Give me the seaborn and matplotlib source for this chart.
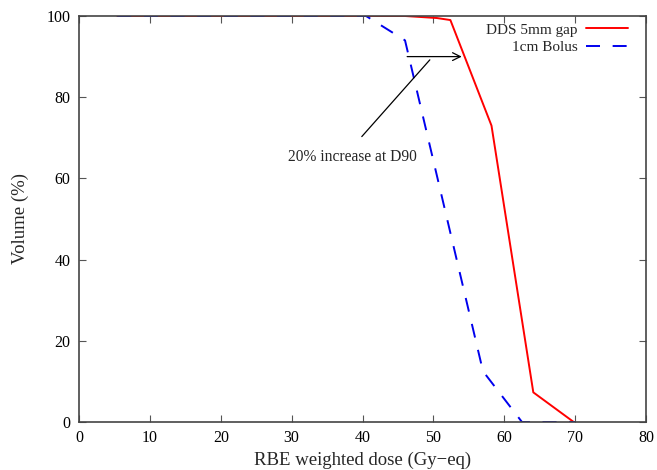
import matplotlib
matplotlib.use("Agg")
import matplotlib.pyplot as plt
import seaborn as sns
import pandas as pd

# Dose-volume histogram data (dose in Gy-eq, volume in %)
dds_dose = [5.4, 40.0, 46.0, 50.5, 52.4, 58.2, 64.1, 69.8]
dds_volume = [100, 100, 100, 99.5, 99.0, 73.0, 7.3, 0.0]
bolus_dose = [5.4, 40.5, 46.0, 57.0, 62.5, 70.0]
bolus_volume = [100, 100, 94.0, 12.5, 0.0, 0.0]

series_names = ["DDS 5mm gap", "1cm Bolus"]
x_ticks = [0, 10, 20, 30, 40, 50, 60, 70, 80]
y_ticks = [0, 20, 40, 60, 80, 100]

df = pd.concat([
    pd.DataFrame({"dose": dds_dose, "volume": dds_volume, "plan": series_names[0]}),
    pd.DataFrame({"dose": bolus_dose, "volume": bolus_volume, "plan": series_names[1]}),
], ignore_index=True)

sns.set_theme(style="white")
plt.rcParams["font.family"] = ["Liberation Serif", "DejaVu Serif"]

fig = plt.figure(figsize=(6.57, 4.70), dpi=100)
ax = fig.add_axes([79 / 657, 1 - 422 / 470, (646 - 79) / 657, (422 - 16) / 470])

sns.lineplot(data=df, x="dose", y="volume", hue="plan", style="plan",
             palette={series_names[0]: "#ff0000", series_names[1]: "#0000ee"},
             dashes={series_names[0]: "", series_names[1]: (7.2, 6.5)},
             linewidth=1.4, sort=False, estimator=None, ax=ax, legend=True)

ax.set_xlim(0, 80)
ax.set_ylim(0, 100)
ax.set_xticks(x_ticks)
ax.set_yticks(y_ticks)
ax.tick_params(direction="in", length=5, width=0.8, color="#555555",
               top=True, right=True, bottom=True, left=True,
               labelsize=11.5, labelcolor="black", pad=6)
for sp in ax.spines.values():
    sp.set_color("#444444")
    sp.set_linewidth(1.2)

ax.set_xlabel("RBE weighted dose (Gy\u2212eq)", fontsize=13.5, labelpad=4)
ax.set_ylabel("Volume (%)", fontsize=13.5, labelpad=13)

# D90 shift arrow and its note
ax.annotate("", xy=(54.0, 90.0), xytext=(46.3, 90.0),
            arrowprops=dict(arrowstyle="->", color="black", lw=0.9,
                            mutation_scale=14, shrinkA=0, shrinkB=0))
ax.plot([49.5, 39.9], [89.2, 70.3], color="black", lw=0.9)
ax.text(38.6, 65.3, "20% increase at D90", fontsize=11.2, ha="center", va="center")

ax.legend(loc="upper right", bbox_to_anchor=(1 - 12 / 567, 1 - 1 / 406),
          frameon=False, markerfirst=False, fontsize=11,
          handlelength=2.75, handletextpad=0.55, labelspacing=0.25,
          borderaxespad=0.0, borderpad=0.4, title=None)

fig.savefig("out.png", dpi=100)
